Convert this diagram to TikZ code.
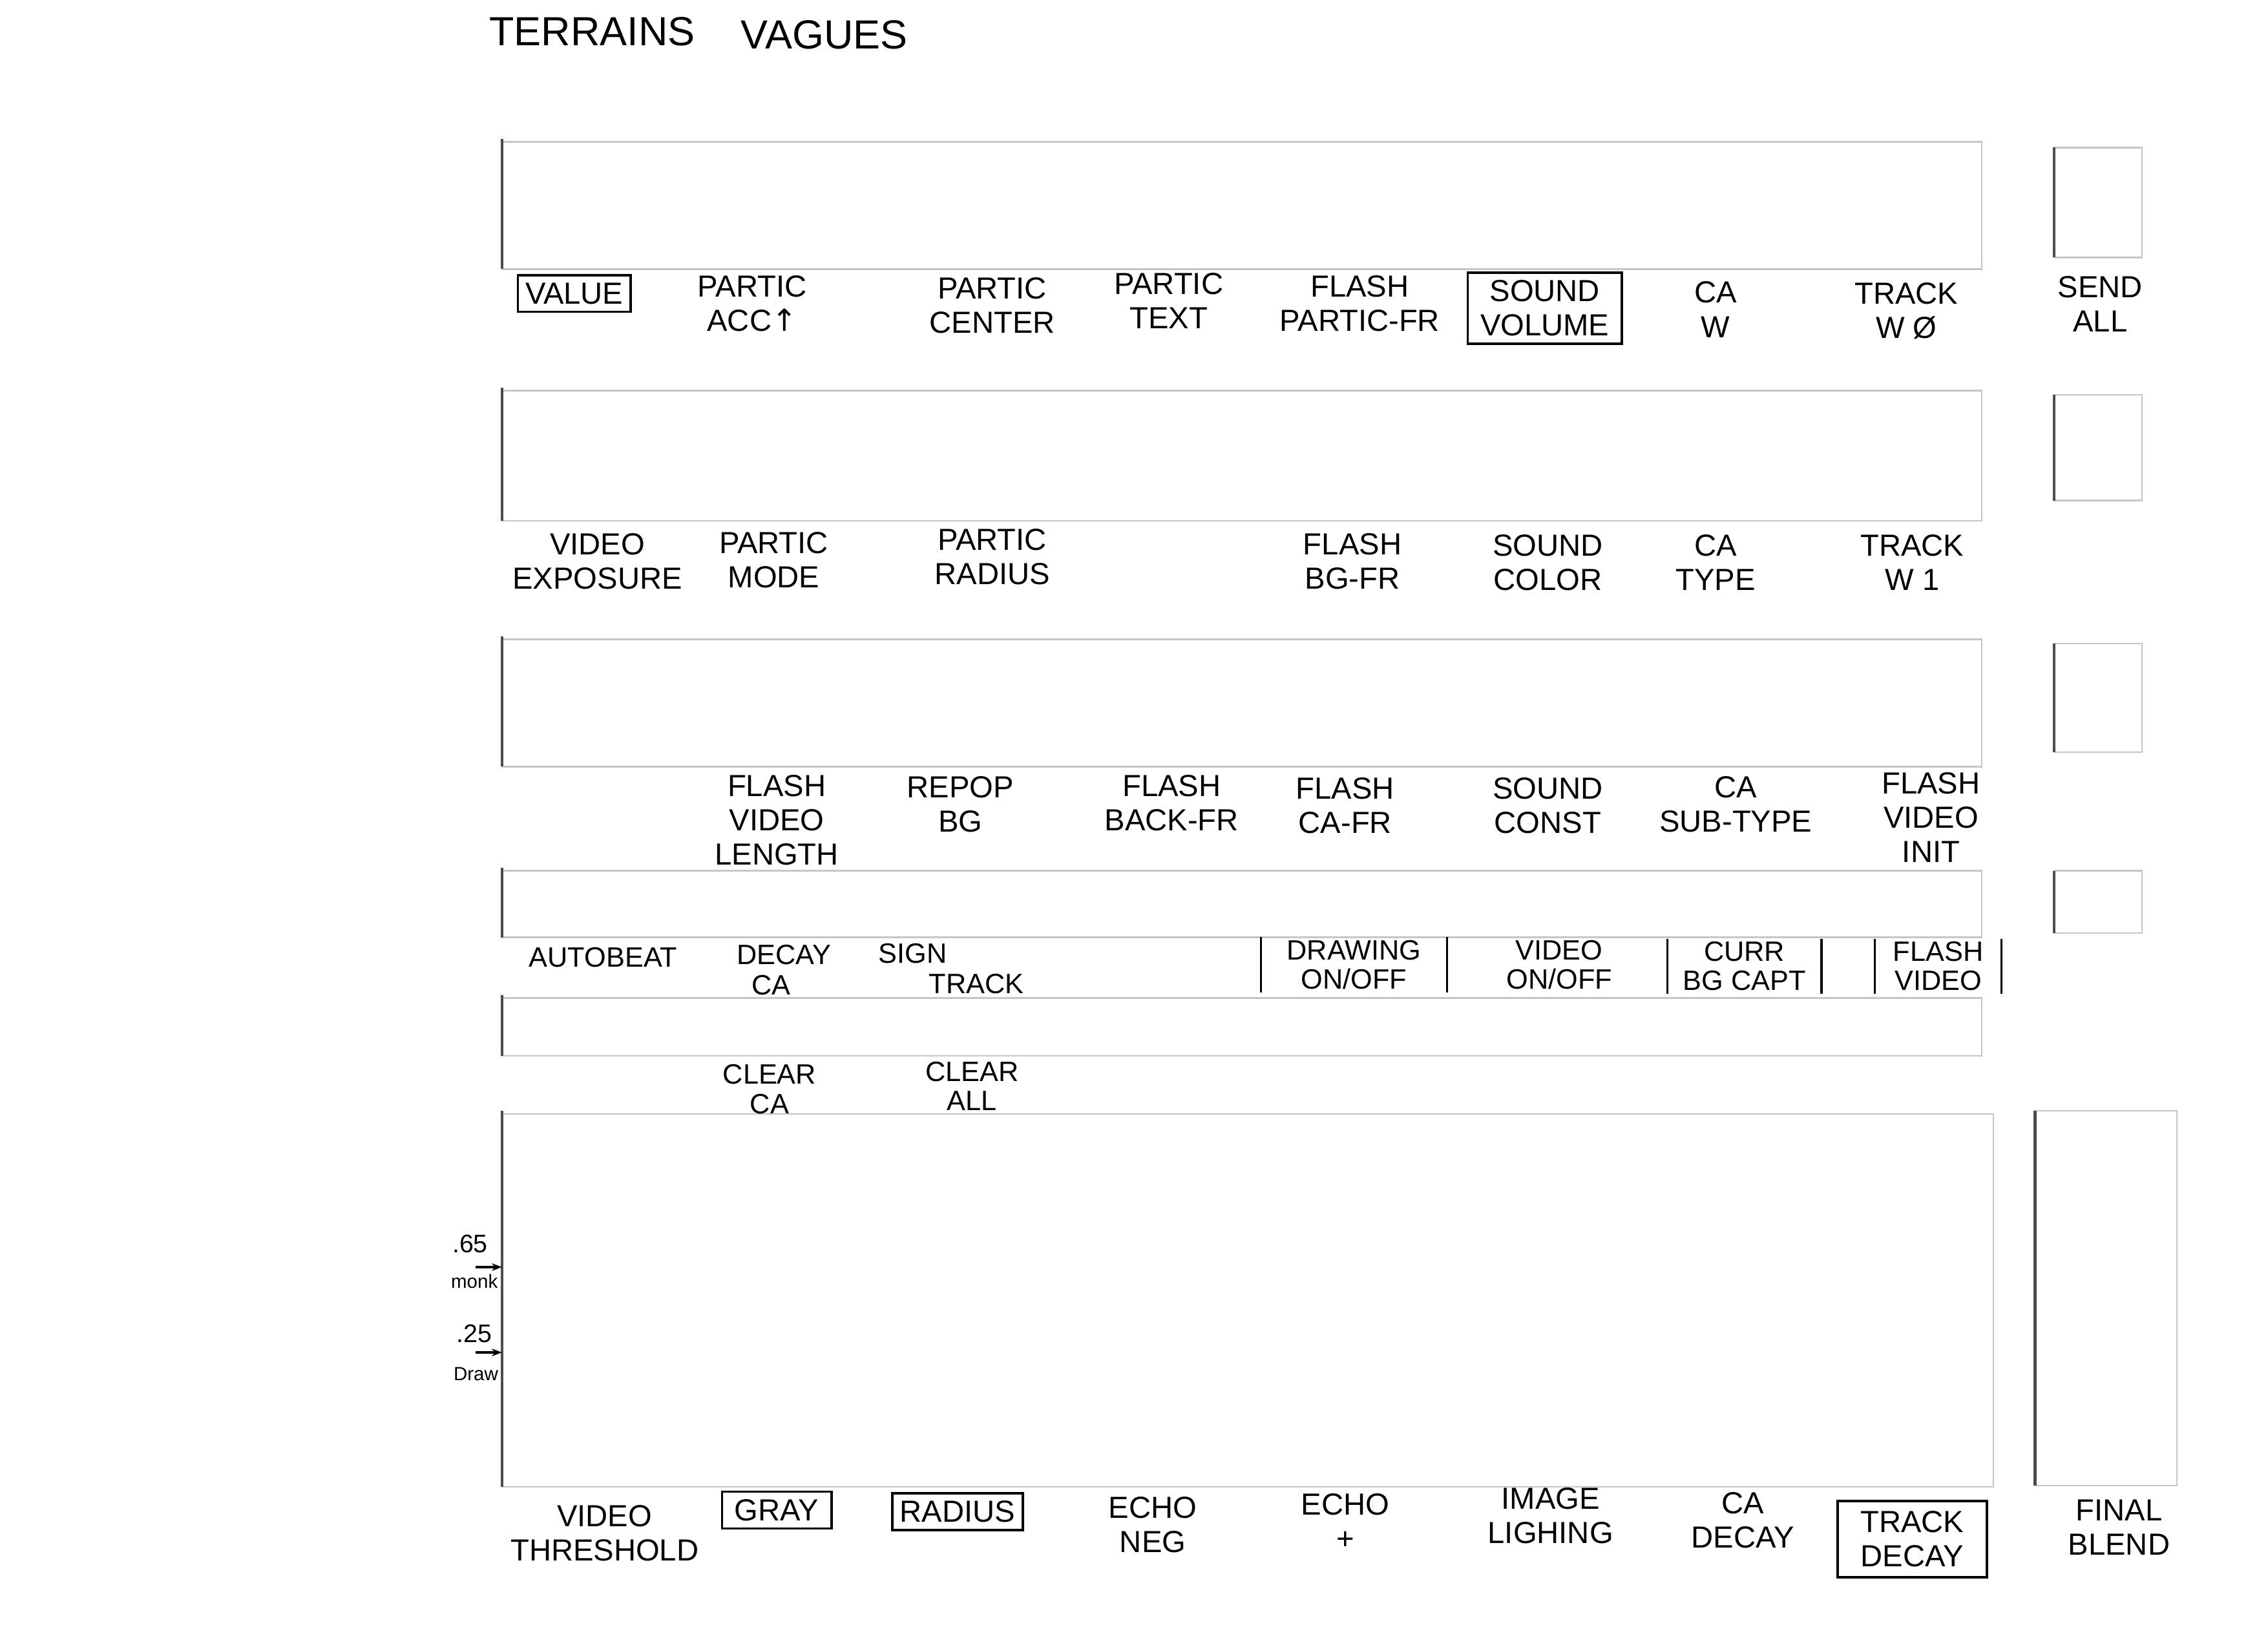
\documentclass[tikz,border=0pt]{standalone}
\usepackage{fontspec}
\setmainfont{Liberation Sans}
\newfontfamily\symfont{DejaVu Sans}
\usetikzlibrary{arrows.meta}
\newcommand\hand{\fontsize{12}{13.5}\selectfont}
\newcommand\handsm{\fontsize{11}{11.5}\selectfont}
\tikzset{panel/.style={draw=gray!45, line width=0.6pt},
  spine/.style={draw=black!70, line width=1.1pt},
  lbl/.style={font=\hand, align=center, inner sep=1pt},
  lblsm/.style={lbl, font=\handsm},
  tag/.style={lbl, draw, line width=0.9pt, inner sep=3pt},
  brk/.style={line width=0.8pt},
  pin/.style={-{Stealth[length=4pt]}, line width=1pt}}

\begin{document}
\begin{tikzpicture}[x=0.02cm, y=-0.02cm]
  \useasboundingbox (0,0) rectangle (1568,1140);
  \node[font=\fontsize{16}{18}\selectfont, anchor=west, inner sep=0pt] (terr) at (338,22) {TERRAINS};
  \node[font=\fontsize{16}{18}\selectfont, anchor=west, inner sep=0pt] (vag) at (512,24) {VAGUES};
  % panels, left column
  \foreach \t/\b in {98/186, 270/360, 442/530, 602/648, 690/730}{
    \draw[panel] (347,\t) rectangle (1370,\b);
    \draw[spine] (347,\t-2) -- (347,\b);
  }
  \draw[panel] (347,770) rectangle (1378,1028);
  \draw[spine] (347,768) -- (347,1028);
  % panels, right column
  \foreach \t/\b in {102/178, 273/346, 445/520, 602/645}{
    \draw[panel] (1420,\t) rectangle (1481,\b);
    \draw[spine] (1420,\t) -- (1420,\b);
  }
  \draw[panel] (1407,768) rectangle (1505,1027);
  \draw[spine] (1407,768) -- (1407,1027);
  % row 1
  \node[tag] (value) at (397,203) {VALUE};
  \node[lbl] (pacc) at (520,210) {PARTIC\\ACC{\symfont ↑}};
  \node[lbl] (pcenter) at (686,211) {PARTIC\\CENTER};
  \node[lbl] (ptext) at (808,208) {PARTIC\\TEXT};
  \node[lbl] (fpartic) at (940,210) {FLASH\\PARTIC-FR};
  \node[tag, inner xsep=5pt] (svolume) at (1068,213) {SOUND\\VOLUME};
  \node[lbl] (caw) at (1186,214) {CA\\W};
  \node[lbl] (trackw0) at (1318,215) {TRACK\\W Ø};
  \node[lbl] (sendall) at (1452,210) {SEND\\ALL};
  % row 2
  \node[lbl] (vexpo) at (413,388) {VIDEO\\EXPOSURE};
  \node[lbl] (pmode) at (535,387) {PARTIC\\MODE};
  \node[lbl] (pradius) at (686,385) {PARTIC\\RADIUS};
  \node[lbl] (fbg) at (935,388) {FLASH\\BG-FR};
  \node[lbl] (scolor) at (1070,389) {SOUND\\COLOR};
  \node[lbl] (catype) at (1186,389) {CA\\TYPE};
  \node[lbl] (trackw1) at (1322,389) {TRACK\\W 1};
  % row 3
  \node[lbl] (fvlength) at (537,567) {FLASH\\VIDEO\\LENGTH};
  \node[lbl] (repop) at (664,556) {REPOP\\BG};
  \node[lbl] (fback) at (810,555) {FLASH\\BACK-FR};
  \node[lbl] (fca) at (930,557) {FLASH\\CA-FR};
  \node[lbl] (sconst) at (1070,557) {SOUND\\CONST};
  \node[lbl] (casub) at (1200,556) {CA\\SUB-TYPE};
  \node[lbl] (fvinit) at (1335,565) {FLASH\\VIDEO\\INIT};
  % row 4
  \node[lblsm] (autobeat) at (417,662) {AUTOBEAT};
  \node[lblsm] (decay) at (542,660) {DECAY};
  \node[lblsm] (decca) at (533,681) {CA};
  \node[lblsm] (sign) at (631,659) {SIGN};
  \node[lblsm] (signtrack) at (675,680) {TRACK};
  \node[lblsm, inner xsep=10pt] (drawing) at (936,667) {DRAWING\\ON/OFF};
  \node[lblsm] (vonoff) at (1078,667) {VIDEO\\ON/OFF};
  \node[lblsm, inner xsep=6pt] (curr) at (1206,668) {CURR\\BG CAPT};
  \node[lblsm, inner xsep=7pt] (fvideo) at (1340,668) {FLASH\\VIDEO};
  \foreach \n in {drawing, curr, fvideo}{
    \draw[brk] (\n.north west) -- (\n.south west) (\n.north east) -- (\n.south east);
  }
  % row 5
  \node[lblsm] (clearca) at (532,753) {CLEAR\\CA};
  \node[lblsm] (clearall) at (672,751) {CLEAR\\ALL};
  % row 6 markers
  \node[font=\fontsize{10}{10}\selectfont, inner sep=0pt] (v65) at (325,860) {.65};
  \node[font=\fontsize{7.5}{8}\selectfont, inner sep=0pt] (monk) at (328,886) {monk};
  \node[font=\fontsize{10}{10}\selectfont, inner sep=0pt] (v25) at (328,922) {.25};
  \node[font=\fontsize{7.5}{8}\selectfont, inner sep=0pt] (drw) at (329,950) {Draw};
  \coordinate (a65) at (329,876);
  \coordinate (t65) at (347,876);
  \coordinate (a25) at (329,935);
  \coordinate (t25) at (347,935);
  \draw[pin] (a65) -- (t65);
  \draw[pin] (a25) -- (t25);
  % row 6
  \node[lbl] (vthresh) at (418,1060) {VIDEO\\THRESHOLD};
  \node[tag, inner xsep=5pt] (gray) at (537,1044) {GRAY};
  \node[tag] (radius) at (662,1045) {RADIUS};
  \node[lbl] (echoneg) at (797,1054) {ECHO\\NEG};
  \node[lbl] (echoplus) at (930,1052) {ECHO\\+};
  \node[lbl] (imgl) at (1072,1048) {IMAGE\\LIGHING};
  \node[lbl] (cadecay) at (1205,1051) {CA\\DECAY};
  \node[tag, inner sep=4pt, inner xsep=9pt] (trdecay) at (1322,1064) {TRACK\\DECAY};
  \node[lbl] (fblend) at (1465,1056) {FINAL\\BLEND};
\end{tikzpicture}
\end{document}
